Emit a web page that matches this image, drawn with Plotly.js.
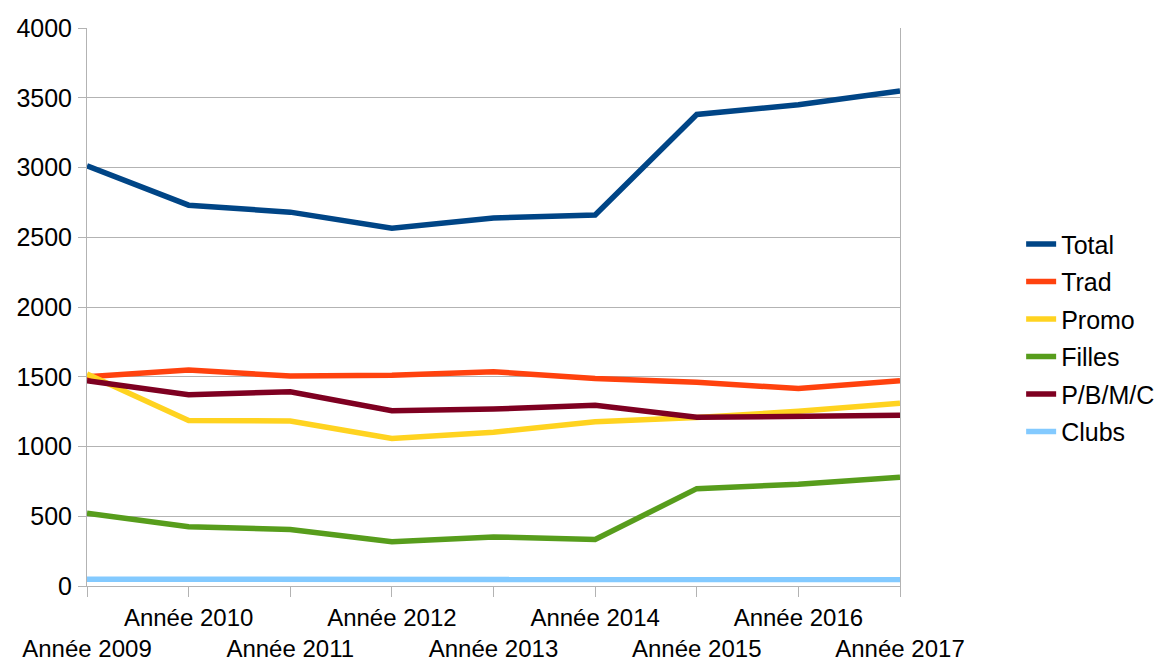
<!DOCTYPE html>
<html><head><meta charset="utf-8">
<script src="https://cdn.plot.ly/plotly-3.0.1.min.js"></script>
<style>html,body{margin:0;padding:0;background:#fff}#chart{width:1174px;height:662px}</style>
</head><body><div id="chart"></div>
<script>
const years = ["Année 2009","Année 2010","Année 2011","Année 2012","Année 2013","Année 2014","Année 2015","Année 2016","Année 2017"];
const total  = [3012, 2730, 2680, 2565, 2638, 2660, 3380, 3450, 3548];
const trad   = [1500, 1548, 1505, 1510, 1536, 1488, 1460, 1416, 1471];
const promo  = [1520, 1186, 1183, 1058, 1102, 1178, 1207, 1252, 1310];
const filles = [521, 424, 405, 317, 352, 333, 698, 729, 779];
const pbmc   = [1471, 1371, 1393, 1257, 1269, 1295, 1209, 1217, 1224];
const clubs  = [48, 47, 50, 48, 48, 48, 48, 48, 46];

const seriesNames = ["Total","Trad","Promo","Filles","P/B/M/C","Clubs"];
const seriesData = [total, trad, promo, filles, pbmc, clubs];
const colors = ["#004586","#ff420e","#ffd320","#579d1c","#7e0021","#83caff"];

const idx = years.map((_, i) => i);
const traces = seriesData.map((d, k) => ({
  x: idx, y: d, name: seriesNames[k], type: 'scatter', mode: 'lines',
  legendgroup: 'g' + k,
  line: {color: colors[k], width: 5.5}
}));
const tickText = years.map((t, i) => i % 2 === 0 ? "<br>" + t : t);

const layout = {
  width: 1174, height: 662,
  margin: {l: 87, r: 274, t: 28, b: 76},
  paper_bgcolor: '#fff', plot_bgcolor: '#fff',
  font: {family: 'Liberation Sans, Arial, sans-serif', size: 25, color: '#000'},
  showlegend: true,
  legend: {x: 1.149, xanchor: 'left', y: 0.445, yanchor: 'middle', font: {size: 25},
           tracegroupgap: 2, bgcolor: 'rgba(0,0,0,0)'},
  xaxis: {
    range: [0, 8], tickvals: idx, ticktext: tickText, tickfont: {size: 24},
    showgrid: false, zeroline: false, showline: true, linecolor: '#b3b3b3', linewidth: 1,
    ticks: 'outside', ticklen: 10, tickcolor: '#b3b3b3', tickangle: 0, mirror: false
  },
  yaxis: {
    range: [0, 4000], dtick: 500, showgrid: true, gridcolor: '#b3b3b3', gridwidth: 1,
    zeroline: false, showline: true, linecolor: '#b3b3b3', linewidth: 1, mirror: true,
    ticks: 'outside', ticklen: 8, tickcolor: '#b3b3b3', ticklabelstandoff: 1
  }
};
Plotly.newPlot('chart', traces, layout, {staticPlot: true, displayModeBar: false});
</script></body></html>
